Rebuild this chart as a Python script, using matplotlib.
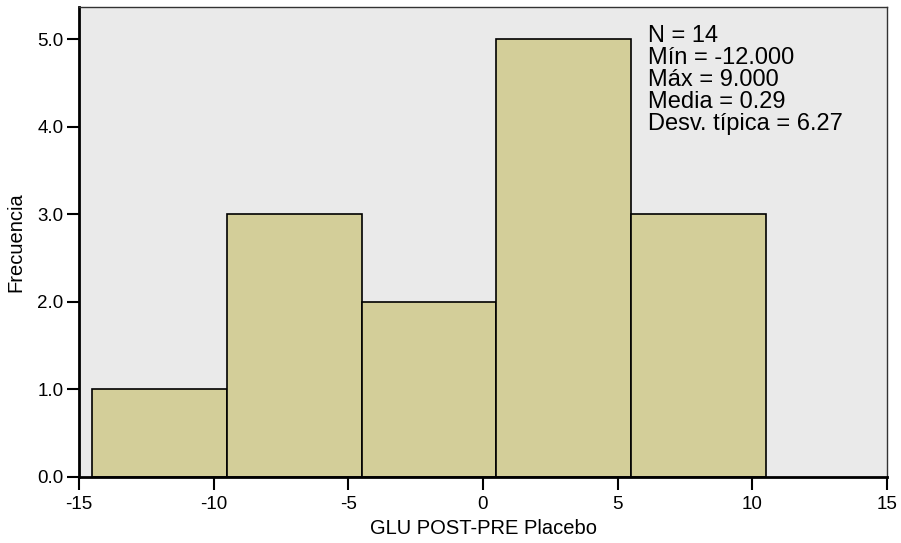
import numpy as np
import matplotlib
matplotlib.use('Agg')
import matplotlib.pyplot as plt

plt.rcParams['font.family'] = ['Liberation Sans', 'DejaVu Sans']

bin_edges = [-14.5, -9.5, -4.5, 0.5, 5.5, 10.5]
counts = [1, 3, 2, 5, 3]
x_ticks = [-15, -10, -5, 0, 5, 10, 15]
y_ticks = [0.0, 1.0, 2.0, 3.0, 4.0, 5.0]
stats_lines = ['N = 14', 'Mín = -12.000', 'Máx = 9.000', 'Media = 0.29', 'Desv. típica = 6.27']

fig = plt.figure(figsize=(9.01, 5.43), dpi=100)
ax = fig.add_axes([79 / 901, 66.5 / 543, 808 / 901, 469.5 / 543])
ax.set_facecolor('#eaeaea')

widths = np.diff(bin_edges)
ax.bar(bin_edges[:-1], counts, width=widths, align='edge',
       color='#d3ce99', edgecolor='black', linewidth=1.2, zorder=2)

ax.set_xlim(-15, 15)
ax.set_ylim(0, 5.37)
ax.set_xticks(x_ticks)
ax.set_xticklabels([str(t) for t in x_ticks])
ax.set_yticks(y_ticks)
ax.set_yticklabels(['%.1f' % t for t in y_ticks])
ax.tick_params(direction='out', length=9, width=1.5, labelsize=13.5)
ax.tick_params(axis='x', pad=5)
ax.tick_params(axis='y', pad=2)

for s in ['left', 'bottom']:
    ax.spines[s].set_linewidth(2)
    ax.spines[s].set_color('black')
for s in ['top', 'right']:
    ax.spines[s].set_linewidth(1)
    ax.spines[s].set_color('#333333')

ax.set_xlabel('GLU POST-PRE Placebo', fontsize=14.5, labelpad=4)
ax.set_ylabel('Frecuencia', fontsize=14.5, labelpad=4)
ax.yaxis.set_label_coords(-0.066, 0.5)

ax.text(0.704, 0.961, '\n'.join(stats_lines), transform=ax.transAxes,
        ha='left', va='top', fontsize=17, linespacing=1.0)

fig.savefig('out.png', dpi=100)
